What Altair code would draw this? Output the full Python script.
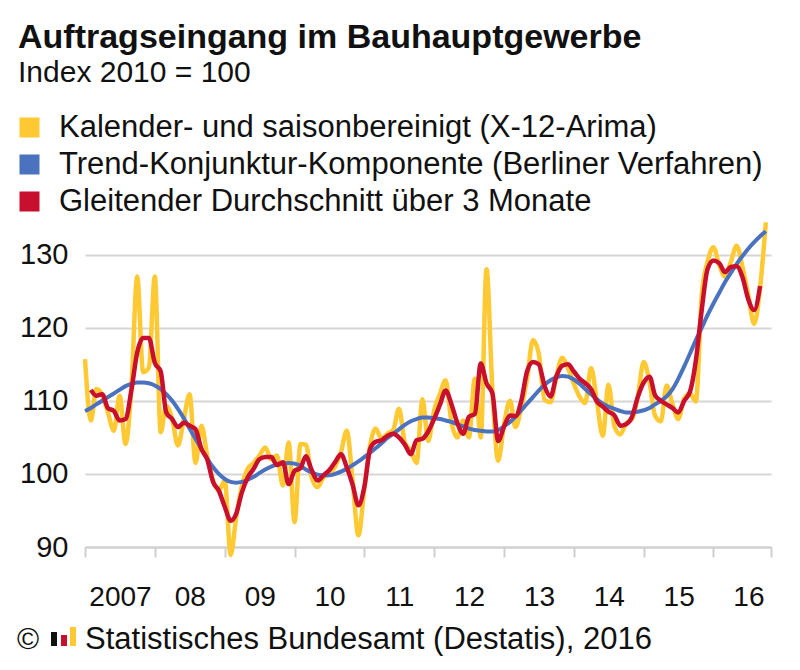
import altair as alt
import pandas as pd

title_text = "Auftragseingang im Bauhauptgewerbe"
subtitle_text = "Index 2010 = 100"
source_text = "Statistisches Bundesamt (Destatis), 2016"
copyright_text = "©"

series_names = [
    "Kalender- und saisonbereinigt (X-12-Arima)",
    "Trend-Konjunktur-Komponente (Berliner Verfahren)",
    "Gleitender Durchschnitt über 3 Monate",
]
series_colors = ["#FFC933", "#4A72BE", "#C8102E"]

# monthly values, Jan 2007 - Oct 2016
yellow = [
    115.7, 107.3, 111.6, 110.8, 108.4, 105.9, 110.7, 104.1, 112.0, 127.0, 113.9, 114.5,
    127.0, 105.7, 109.3, 107.5, 103.9, 107.5, 110.9, 101.5, 106.6, 102.5, 99.1, 97.7,
    99.1, 88.9, 93.9, 98.4, 100.7, 101.5, 102.5, 103.6, 102.0, 102.5, 98.4, 104.3,
    93.4, 104.1, 104.0, 99.5, 98.2, 99.5, 100.0, 101.0, 103.0, 105.9, 99.0, 91.6,
    98.0, 104.0, 106.2, 104.8, 105.5, 106.0, 108.9, 104.3, 103.2, 101.5, 110.2, 104.5,
    108.7, 111.0, 112.8, 107.0, 105.0, 107.3, 105.0, 113.0, 105.0, 128.0, 111.4, 101.8,
    106.8, 110.0, 106.4, 109.1, 113.0, 118.3, 116.5, 110.1, 109.8, 113.3, 115.9, 114.5,
    112.3, 110.5, 109.7, 114.5, 110.0, 105.2, 112.2, 106.5, 105.4, 106.9, 107.5, 110.5,
    115.3, 112.5, 108.0, 107.2, 112.1, 109.5, 107.5, 110.3, 111.0, 109.9, 124.5, 129.0,
    131.0, 128.5, 127.0, 129.0, 131.2, 128.3, 124.5, 120.5, 125.5, 134.4,
]

blue = [
    108.6, 109.0, 109.5, 110.0, 110.5, 111.0, 111.5, 112.0, 112.3, 112.5, 112.5, 112.4,
    112.1, 111.6, 110.9, 110.0, 108.9, 107.6, 106.2, 104.8, 103.4, 102.1, 100.9, 100.0,
    99.3, 98.9, 98.8, 98.9, 99.2, 99.6, 100.1, 100.6, 101.0, 101.3, 101.4, 101.5,
    101.4, 101.1, 100.6, 100.2, 99.9, 99.8, 99.8, 100.0, 100.3, 100.7, 101.2, 101.7,
    102.3, 102.9, 103.5, 104.2, 104.9, 105.5, 106.1, 106.7, 107.2, 107.5, 107.7, 107.7,
    107.6, 107.5, 107.3, 107.1, 106.8, 106.5, 106.2, 106.0, 105.9, 105.8, 105.8, 106.0,
    106.5, 107.1, 107.8, 108.7, 109.6, 110.5, 111.4, 112.2, 112.8, 113.2, 113.4, 113.3,
    112.9, 112.3, 111.6, 110.9, 110.2, 109.6, 109.2, 108.9, 108.6, 108.4, 108.4, 108.5,
    108.7, 109.0, 109.5, 110.0, 110.6, 111.6, 113.0, 114.7, 116.5, 118.3, 120.0, 121.7,
    123.3, 124.8, 126.2, 127.5, 128.7, 129.8, 130.8, 131.7, 132.5, 133.2,
]

# centred 3-month average: Feb 2007 - Sep 2016
red = [
    111.5, 110.7, 110.9, 109.0, 108.6, 107.3, 107.5, 111.5, 116.6, 118.6, 118.6,
    115.2, 114.0, 108.4, 107.5, 106.4, 107.0, 106.6, 106.1, 103.4, 102.0, 98.9, 97.7,
    95.5, 93.6, 94.5, 97.5, 99.5, 100.7, 102.0, 102.3, 102.3, 101.2, 101.6, 98.6,
    100.4, 100.8, 102.4, 100.5, 99.1, 99.8, 100.5, 101.6, 102.7, 100.9, 98.5, 95.7,
    98.2, 103.5, 104.4, 104.6, 105.2, 105.5, 105.0, 104.0, 102.7, 104.6, 104.8, 105.8,
    107.5, 109.5, 111.4, 109.5, 107.0, 105.5, 107.8, 108.2, 115.1, 112.4, 111.0, 104.5,
    106.5, 108.0, 107.9, 110.0, 114.0, 115.3, 115.0, 112.0, 110.6, 113.3, 114.8, 115.0,
    114.0, 113.0, 112.4, 111.6, 109.9, 109.2, 108.5, 108.0, 106.6, 106.8, 107.8, 110.5,
    112.5, 113.3, 110.8, 110.0, 109.5, 109.0, 108.4, 110.0, 111.3, 115.5, 122.5, 128.0,
    129.2, 128.8, 127.6, 128.3, 128.4, 126.9, 123.9, 122.4, 125.7,
]

months = pd.date_range("2007-01-01", periods=len(yellow), freq="MS")

df = pd.concat([
    pd.DataFrame({"date": months, "value": yellow, "series": series_names[0]}),
    pd.DataFrame({"date": months, "value": blue, "series": series_names[1]}),
    pd.DataFrame({"date": months[1:1 + len(red)], "value": red, "series": series_names[2]}),
], ignore_index=True)
df["date"] = df["date"].dt.strftime("%Y-%m-%dT00:00:00")

FONT = "Liberation Sans"
W, H = 686, 329

year_ticks = [alt.DateTime(year=y, month=1, date=1) for y in range(2007, 2017)] + [
    alt.DateTime(year=2016, month=10, date=28)
]

x_enc = alt.X(
    "date:T",
    scale=alt.Scale(
        domain=[alt.DateTime(year=2007, month=1, date=1), alt.DateTime(year=2016, month=10, date=28)],
        nice=False,
    ),
    axis=alt.Axis(
        title=None,
        values=year_ticks,
        labelExpr="month(datum.value) == 0 ? (year(datum.value) == 2007 ? '2007' : timeFormat(datum.value, '%y')) : ''",
        labelOffset=35,
        labelFlush=False,
        labelOverlap=False,
        labelAlign="center",
        labelBaseline="middle",
        labelPadding=40,
        labelFontSize=28,
        labelFont=FONT,
        labelColor="#111111",
        grid=False,
        domainColor="#cfcfcf",
        domainWidth=2,
        tickColor="#cfcfcf",
        tickWidth=2,
        tickSize=10,
    ),
)

y_enc = alt.Y(
    "value:Q",
    scale=alt.Scale(domain=[90, 135], nice=False, zero=False),
    axis=alt.Axis(
        title=None,
        values=[90, 100, 110, 120, 130],
        domain=False,
        ticks=False,
        labelPadding=17,
        labelFontSize=29,
        labelFont=FONT,
        labelColor="#111111",
        gridColor="#d6d6d6",
        gridWidth=2,
    ),
)

color_enc = alt.Color(
    "series:N",
    scale=alt.Scale(domain=series_names, range=series_colors),
    legend=alt.Legend(
        title=None,
        orient="none",
        legendX=-71,
        legendY=-109,
        symbolType="square",
        symbolSize=100,
        symbolStrokeWidth=10,
        labelFontSize=31,
        labelFont=FONT,
        labelColor="#111111",
        labelLimit=800,
        labelOffset=14,
        clipHeight=37,
        rowPadding=0,
        padding=0,
    ),
)

base = alt.Chart(df)
widths = [4.5, 4, 4.5]
lines = [
    base.transform_filter(alt.datum.series == name)
    .mark_line(strokeWidth=w, interpolate="monotone")
    .encode(x=x_enc, y=y_enc, color=color_enc)
    for name, w in zip(series_names, widths)
]

def label(text, x, y, size, bold=False):
    return alt.Chart(pd.DataFrame({"t": [text]})).mark_text(
        align="left", baseline="alphabetic", fontSize=size, font=FONT,
        fontWeight="bold" if bold else "normal", color="#111111",
    ).encode(text="t:N", x=alt.value(x), y=alt.value(y))

title = label(title_text, -67, -170, 34, bold=True)
subtitle = label(subtitle_text, -67, -136, 30)
copy_mark = label(copyright_text, -68, 431, 30)
source = label(source_text, 0, 431, 31)

logo_colors = ["#111111", "#C8102E", "#FFC933"]
def logo_bar(c, x1, x2, y1, y2):
    return alt.Chart(pd.DataFrame({"c": [c]})).mark_rect(color=c).encode(
        x=alt.value(x1), x2=alt.value(x2), y=alt.value(y1), y2=alt.value(y2)
    )

logo = [
    logo_bar(logo_colors[0], -34, -28, 414, 428),
    logo_bar(logo_colors[1], -24, -18, 417, 428),
    logo_bar(logo_colors[2], -15, -9, 409, 428),
]

chart = alt.layer(*lines, title, subtitle, copy_mark, source, *logo).properties(
    width=W,
    height=H,
    autosize=alt.AutoSizeParams(type="none"),
    padding={"left": 77, "top": 210, "right": 21, "bottom": 115},
    background="white",
).configure_view(stroke=None)

chart.save("out.html", embed_options={"renderer": "svg", "actions": False})
